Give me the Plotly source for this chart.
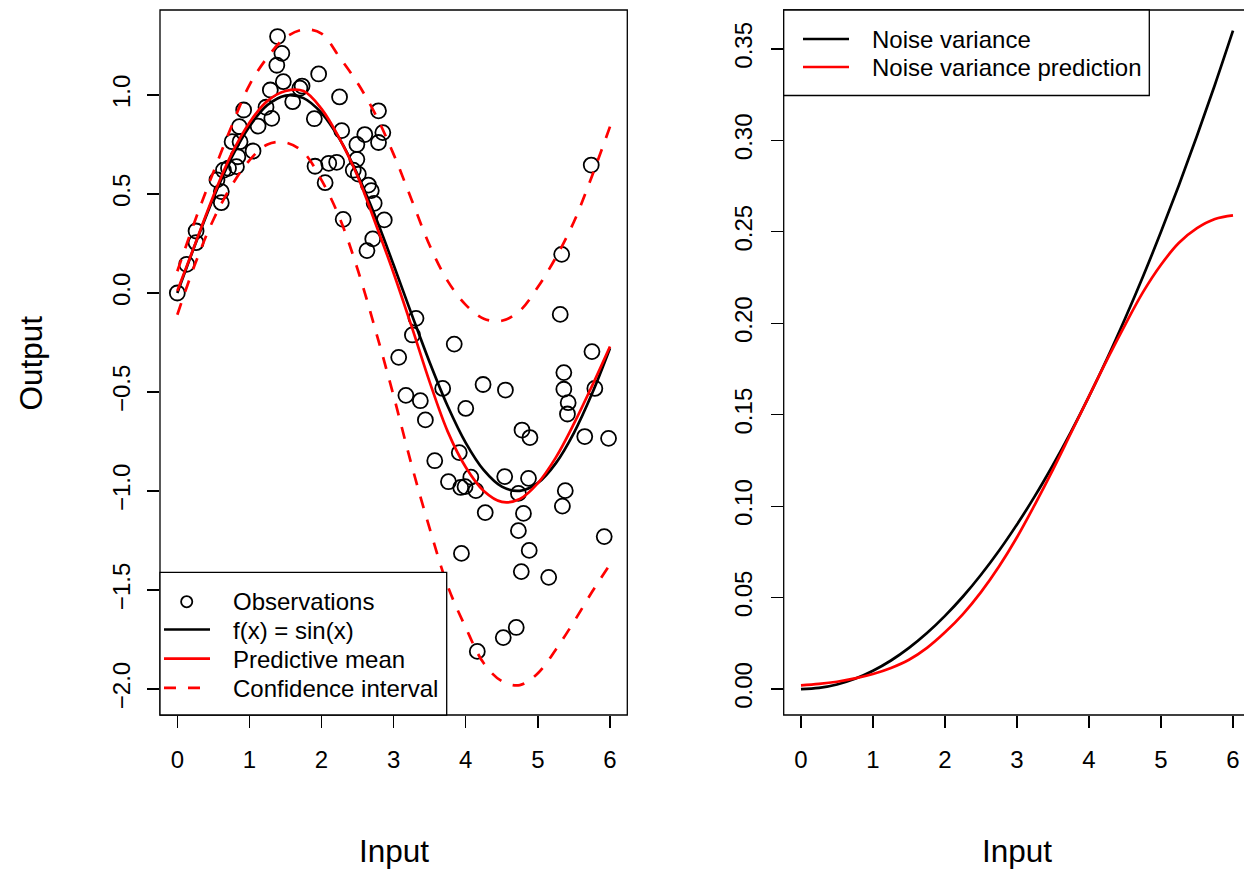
import plotly.graph_objects as go

# ---------------- data ----------------
obs_x = [0.0, 0.13, 0.26, 0.26, 0.61, 0.61, 0.55, 0.71, 0.82, 0.64, 0.84, 0.76, 0.87, 0.86, 0.92,
         1.05, 1.12, 1.23, 1.31, 1.29, 1.47, 1.38, 1.45, 1.39, 1.60, 1.70, 1.73, 1.96, 2.25, 1.90,
         2.28, 2.60, 2.79, 2.85, 2.79, 2.49, 2.49, 2.44, 2.51, 1.91, 2.10, 2.21, 2.05, 2.65, 2.69,
         2.73, 2.87, 2.30, 2.71, 2.63, 3.31, 3.26, 3.07, 3.17, 3.37, 3.44, 3.68, 3.57, 3.76, 3.84,
         5.74, 5.33, 5.31, 5.75, 5.36, 5.36, 5.42, 5.41, 5.79, 4.24, 4.55, 4.00, 4.78, 4.89, 5.65,
         5.98, 3.91, 3.93, 3.99, 4.07, 4.14, 4.27, 4.54, 4.73, 4.87, 4.80, 4.73, 4.88, 4.77, 5.15,
         5.38, 5.34, 5.92, 3.94, 4.70, 4.52, 4.16]
obs_y = [0.0, 0.145, 0.254, 0.313, 0.456, 0.512, 0.571, 0.63, 0.638, 0.62, 0.688, 0.764, 0.764, 0.84, 0.924,
         0.717, 0.843, 0.938, 0.882, 1.025, 1.067, 1.15, 1.21, 1.295, 0.966, 1.034, 1.045, 1.106, 0.99, 0.88,
         0.82, 0.80, 0.92, 0.81, 0.76, 0.75, 0.675, 0.62, 0.60, 0.64, 0.655, 0.66, 0.557, 0.545, 0.517,
         0.453, 0.369, 0.372, 0.273, 0.214, -0.128, -0.212, -0.325, -0.517, -0.544, -0.641, -0.482, -0.847, -0.953, -0.258,
         0.646, 0.195, -0.108, -0.296, -0.402, -0.486, -0.554, -0.611, -0.482, -0.462, -0.490, -0.583, -0.692, -0.73, -0.725,
         -0.734, -0.806, -0.982, -0.978, -0.93, -0.998, -1.109, -0.927, -1.012, -0.936, -1.113, -1.20, -1.30, -1.407, -1.436,
         -0.998, -1.076, -1.23, -1.315, -1.689, -1.74, -1.81]

grid_x = [0.0, 0.25, 0.5, 0.75, 1.0, 1.25, 1.5, 1.75, 2.0, 2.25, 2.5, 2.75, 3.0,
          3.25, 3.5, 3.75, 4.0, 4.25, 4.5, 4.75, 5.0, 5.25, 5.5, 5.75, 6.0]
true_f = [0.0, 0.247, 0.479, 0.682, 0.841, 0.949, 0.997, 0.984, 0.909, 0.778, 0.598, 0.382, 0.141,
          -0.108, -0.351, -0.572, -0.757, -0.895, -0.978, -0.999, -0.959, -0.859, -0.706, -0.509, -0.279]
pred_mean = [0.01, 0.25, 0.49, 0.70, 0.86, 0.97, 1.02, 1.02, 0.93, 0.78, 0.59, 0.35, 0.10,
             -0.17, -0.45, -0.70, -0.88, -1.00, -1.055, -1.04, -0.96, -0.83, -0.66, -0.47, -0.27]
ci_upper = [0.11, 0.37, 0.61, 0.84, 1.05, 1.19, 1.29, 1.33, 1.31, 1.19, 1.06, 0.90, 0.70,
            0.47, 0.24, 0.06, -0.06, -0.13, -0.14, -0.09, 0.03, 0.18, 0.36, 0.59, 0.84]
ci_lower = [-0.11, 0.15, 0.37, 0.54, 0.67, 0.75, 0.76, 0.71, 0.57, 0.38, 0.12, -0.19, -0.52,
            -0.87, -1.19, -1.48, -1.69, -1.87, -1.96, -1.98, -1.92, -1.80, -1.66, -1.51, -1.37]

var_x = [0.0, 0.25, 0.5, 0.75, 1.0, 1.25, 1.5, 1.75, 2.0, 2.25, 2.5, 2.75, 3.0,
         3.25, 3.5, 3.75, 4.0, 4.25, 4.5, 4.75, 5.0, 5.25, 5.5, 5.75, 6.0]
noise_var = [0.0, 0.0006, 0.0025, 0.0056, 0.01, 0.0156, 0.0225, 0.0306, 0.04, 0.0506, 0.0625, 0.0756, 0.09,
             0.1056, 0.1225, 0.1406, 0.16, 0.1806, 0.2025, 0.2256, 0.25, 0.2756, 0.3025, 0.3306, 0.36]
noise_var_pred = [0.002, 0.0028, 0.004, 0.0058, 0.0082, 0.0115, 0.016, 0.0225, 0.031, 0.041, 0.053, 0.067, 0.083,
                  0.101, 0.120, 0.140, 0.160, 0.180, 0.199, 0.217, 0.232, 0.244, 0.252, 0.257, 0.259]

x_ticks = [0, 1, 2, 3, 4, 5, 6]
y1_ticks = [-2.0, -1.5, -1.0, -0.5, 0.0, 0.5, 1.0]
y2_ticks = [0.0, 0.05, 0.10, 0.15, 0.20, 0.25, 0.30, 0.35]

# ---------------- layout helpers ----------------
W, H = 1244, 870
FONT = "Liberation Sans, Arial, Helvetica, sans-serif"
FS = 24
FS_TITLE = 31.5
LW = 2.7


def px(v):
    return v / W


def py(v):
    return 1 - v / H


fig = go.Figure()

# left panel
fig.add_trace(go.Scatter(x=obs_x, y=obs_y, mode="markers",
                         marker=dict(symbol="circle-open", size=15, color="black", line=dict(width=1.8)),
                         xaxis="x", yaxis="y", showlegend=False))
fig.add_trace(go.Scatter(x=grid_x, y=true_f, mode="lines",
                         line=dict(color="black", width=LW, shape="spline"),
                         xaxis="x", yaxis="y", showlegend=False))
fig.add_trace(go.Scatter(x=grid_x, y=pred_mean, mode="lines",
                         line=dict(color="red", width=LW, shape="spline"),
                         xaxis="x", yaxis="y", showlegend=False))
fig.add_trace(go.Scatter(x=grid_x, y=ci_upper, mode="lines",
                         line=dict(color="red", width=LW, dash="12px,12px", shape="spline"),
                         xaxis="x", yaxis="y", showlegend=False))
fig.add_trace(go.Scatter(x=grid_x, y=ci_lower, mode="lines",
                         line=dict(color="red", width=LW, dash="12px,12px", shape="spline"),
                         xaxis="x", yaxis="y", showlegend=False))

# right panel
fig.add_trace(go.Scatter(x=var_x, y=noise_var, mode="lines",
                         line=dict(color="black", width=LW, shape="spline"),
                         xaxis="x2", yaxis="y2", showlegend=False))
fig.add_trace(go.Scatter(x=var_x, y=noise_var_pred, mode="lines",
                         line=dict(color="red", width=LW, shape="spline"),
                         xaxis="x2", yaxis="y2", showlegend=False))

tickfont = dict(family=FONT, size=FS, color="black")
common = dict(showgrid=False, zeroline=False, showline=False, ticks="outside", ticklen=12,
              tickwidth=1.3, tickcolor="black", tickfont=tickfont)

y_dom = [py(715), py(10)]

fig.update_layout(
    width=W, height=H, autosize=False,
    margin=dict(l=0, r=0, t=0, b=0),
    paper_bgcolor="white", plot_bgcolor="white",
    font=dict(family=FONT, size=FS, color="black"),
    hovermode=False,
    xaxis=dict(domain=[px(160), px(627.3)], range=[-0.24, 6.24], tickvals=x_ticks,
               anchor="y", ticklabelstandoff=11, **common),
    yaxis=dict(domain=y_dom, range=[-2.131, 1.429], tickvals=y1_ticks, tickformat=".1f",
               tickangle=-90, anchor="x", ticklabelstandoff=7, **common),
    xaxis2=dict(domain=[px(783.7), 1.0], range=[-0.24, (W - 801) / 72.0], tickvals=x_ticks,
                anchor="y2", ticklabelstandoff=11, **common),
    yaxis2=dict(domain=y_dom, range=[-0.0142, 0.3713], tickvals=y2_ticks, tickformat=".2f",
                tickangle=-90, anchor="x2", ticklabelstandoff=9, **common),
)

shapes = []
# plot boxes
shapes.append(dict(type="rect", xref="paper", yref="paper", x0=px(160), x1=px(627.3), y0=py(715), y1=py(10),
                   line=dict(color="black", width=1.3), layer="above"))
shapes.append(dict(type="rect", xref="paper", yref="paper", x0=px(783.7), x1=px(1250), y0=py(715), y1=py(10),
                   line=dict(color="black", width=1.3), layer="above"))
# legend boxes
shapes.append(dict(type="rect", xref="paper", yref="paper", x0=px(160), x1=px(446.7), y0=py(715), y1=py(572.3),
                   line=dict(color="black", width=1.3), fillcolor="white", layer="above"))
shapes.append(dict(type="rect", xref="paper", yref="paper", x0=px(783.7), x1=px(1149.3), y0=py(95.5), y1=py(10),
                   line=dict(color="black", width=1.3), fillcolor="white", layer="above"))
# left legend glyphs
shapes.append(dict(type="circle", xref="paper", yref="paper", x0=px(186.7 - 5.6), x1=px(186.7 + 5.6),
                   y0=py(601.7 + 5.6), y1=py(601.7 - 5.6), line=dict(color="black", width=1.8), layer="above"))
shapes.append(dict(type="line", xref="paper", yref="paper", x0=px(164), x1=px(210), y0=py(629.5), y1=py(629.5),
                   line=dict(color="black", width=LW), layer="above"))
shapes.append(dict(type="line", xref="paper", yref="paper", x0=px(164), x1=px(210), y0=py(658.7), y1=py(658.7),
                   line=dict(color="red", width=LW), layer="above"))
shapes.append(dict(type="line", xref="paper", yref="paper", x0=px(164), x1=px(210), y0=py(687.8), y1=py(687.8),
                   line=dict(color="red", width=LW, dash="12px,12px"), layer="above"))
# right legend glyphs
shapes.append(dict(type="line", xref="paper", yref="paper", x0=px(803), x1=px(849), y0=py(39), y1=py(39),
                   line=dict(color="black", width=LW), layer="above"))
shapes.append(dict(type="line", xref="paper", yref="paper", x0=px(803), x1=px(849), y0=py(67), y1=py(67),
                   line=dict(color="red", width=LW), layer="above"))

annotations = []


def text(x, y, s, angle=0, xanchor="left", size=FS):
    annotations.append(dict(x=px(x), y=py(y), xref="paper", yref="paper", text=s, showarrow=False,
                            xanchor=xanchor, yanchor="middle", textangle=angle,
                            font=dict(family=FONT, size=size, color="black")))


text(230.7, 601.7, "Observations")
text(230.7, 630.5, "f(x) = sin(x)")
text(230.7, 659.5, "Predictive mean")
text(230.7, 688.5, "Confidence interval")
text(870, 40, "Noise variance")
text(870, 68, "Noise variance prediction")
# axis titles
text(393.6, 851, "Input", xanchor="center", size=FS_TITLE)
text(1017, 851, "Input", xanchor="center", size=FS_TITLE)
text(30, 362.5, "Output", angle=-90, xanchor="center", size=FS_TITLE)

fig.update_layout(shapes=shapes, annotations=annotations)

# remove the default page margin so the figure sits at the window's top-left corner
page_js = ("document.documentElement.style.overflow='hidden';"
           "document.body.style.margin='0';document.body.style.overflow='hidden';")
fig.write_html("out.html", post_script=page_js, config={"displayModeBar": False, "staticPlot": True})
